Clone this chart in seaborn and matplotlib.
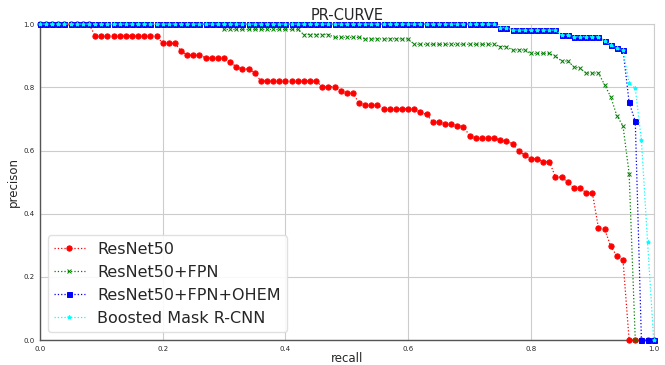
import numpy as np
import pandas as pd
import matplotlib
matplotlib.use("Agg")
import matplotlib.pyplot as plt
import seaborn as sns

# recall grid (0.00 .. 1.00, step 0.01)
recall = [0.00, 0.01, 0.02, 0.03, 0.04, 0.05, 0.06, 0.07, 0.08, 0.09,
          0.10, 0.11, 0.12, 0.13, 0.14, 0.15, 0.16, 0.17, 0.18, 0.19,
          0.20, 0.21, 0.22, 0.23, 0.24, 0.25, 0.26, 0.27, 0.28, 0.29,
          0.30, 0.31, 0.32, 0.33, 0.34, 0.35, 0.36, 0.37, 0.38, 0.39,
          0.40, 0.41, 0.42, 0.43, 0.44, 0.45, 0.46, 0.47, 0.48, 0.49,
          0.50, 0.51, 0.52, 0.53, 0.54, 0.55, 0.56, 0.57, 0.58, 0.59,
          0.60, 0.61, 0.62, 0.63, 0.64, 0.65, 0.66, 0.67, 0.68, 0.69,
          0.70, 0.71, 0.72, 0.73, 0.74, 0.75, 0.76, 0.77, 0.78, 0.79,
          0.80, 0.81, 0.82, 0.83, 0.84, 0.85, 0.86, 0.87, 0.88, 0.89,
          0.90, 0.91, 0.92, 0.93, 0.94, 0.95, 0.96, 0.97, 0.98, 0.99,
          1.00]

prec_resnet50 = [1.0, 1.0, 1.0, 1.0, 1.0, 1.0, 1.0, 1.0, 1.0, 0.963,
                 0.963, 0.963, 0.963, 0.963, 0.963, 0.963, 0.963, 0.963, 0.963, 0.963,
                 0.939, 0.939, 0.939, 0.915, 0.902, 0.902, 0.902, 0.893, 0.893, 0.893,
                 0.893, 0.880, 0.865, 0.858, 0.858, 0.846, 0.820, 0.820, 0.820, 0.820,
                 0.820, 0.820, 0.820, 0.820, 0.820, 0.820, 0.802, 0.802, 0.802, 0.788,
                 0.782, 0.782, 0.750, 0.744, 0.744, 0.744, 0.732, 0.732, 0.732, 0.732,
                 0.732, 0.732, 0.721, 0.714, 0.691, 0.691, 0.685, 0.685, 0.679, 0.676,
                 0.647, 0.639, 0.639, 0.639, 0.639, 0.633, 0.630, 0.621, 0.599, 0.585,
                 0.574, 0.574, 0.565, 0.565, 0.516, 0.516, 0.500, 0.481, 0.481, 0.467,
                 0.467, 0.355, 0.352, 0.297, 0.266, 0.253, 0.0, 0.0, 0.0, 0.0,
                 0.0]

prec_fpn = [1.0, 1.0, 1.0, 1.0, 1.0, 1.0, 1.0, 1.0, 1.0, 1.0,
            1.0, 1.0, 1.0, 1.0, 1.0, 1.0, 1.0, 1.0, 1.0, 1.0,
            1.0, 1.0, 1.0, 1.0, 1.0, 1.0, 1.0, 1.0, 1.0, 1.0,
            0.983, 0.983, 0.983, 0.983, 0.983, 0.983, 0.983, 0.983, 0.983, 0.983,
            0.983, 0.983, 0.983, 0.967, 0.967, 0.967, 0.967, 0.967, 0.958, 0.958,
            0.958, 0.958, 0.958, 0.953, 0.953, 0.953, 0.953, 0.953, 0.953, 0.953,
            0.953, 0.936, 0.936, 0.936, 0.936, 0.936, 0.936, 0.936, 0.936, 0.936,
            0.936, 0.936, 0.936, 0.936, 0.936, 0.929, 0.929, 0.918, 0.918, 0.918,
            0.907, 0.907, 0.907, 0.907, 0.899, 0.883, 0.883, 0.865, 0.860, 0.845,
            0.845, 0.845, 0.808, 0.770, 0.710, 0.678, 0.527, 0.0, 0.0, 0.0,
            0.0]

prec_ohem = [1.0, 1.0, 1.0, 1.0, 1.0, 1.0, 1.0, 1.0, 1.0, 1.0,
             1.0, 1.0, 1.0, 1.0, 1.0, 1.0, 1.0, 1.0, 1.0, 1.0,
             1.0, 1.0, 1.0, 1.0, 1.0, 1.0, 1.0, 1.0, 1.0, 1.0,
             1.0, 1.0, 1.0, 1.0, 1.0, 1.0, 1.0, 1.0, 1.0, 1.0,
             1.0, 1.0, 1.0, 1.0, 1.0, 1.0, 1.0, 1.0, 1.0, 1.0,
             1.0, 1.0, 1.0, 1.0, 1.0, 1.0, 1.0, 1.0, 1.0, 1.0,
             1.0, 1.0, 1.0, 1.0, 1.0, 1.0, 1.0, 1.0, 1.0, 1.0,
             1.0, 1.0, 1.0, 1.0, 1.0, 0.989, 0.989, 0.981, 0.981, 0.981,
             0.981, 0.981, 0.981, 0.981, 0.981, 0.965, 0.965, 0.960, 0.960, 0.960,
             0.960, 0.960, 0.947, 0.934, 0.923, 0.918, 0.752, 0.692, 0.0, 0.0,
             0.0]

prec_boosted = [1.0, 1.0, 1.0, 1.0, 1.0, 1.0, 1.0, 1.0, 1.0, 1.0,
                1.0, 1.0, 1.0, 1.0, 1.0, 1.0, 1.0, 1.0, 1.0, 1.0,
                1.0, 1.0, 1.0, 1.0, 1.0, 1.0, 1.0, 1.0, 1.0, 1.0,
                1.0, 1.0, 1.0, 1.0, 1.0, 1.0, 1.0, 1.0, 1.0, 1.0,
                1.0, 1.0, 1.0, 1.0, 1.0, 1.0, 1.0, 1.0, 1.0, 1.0,
                1.0, 1.0, 1.0, 1.0, 1.0, 1.0, 1.0, 1.0, 1.0, 1.0,
                1.0, 1.0, 1.0, 1.0, 1.0, 1.0, 1.0, 1.0, 1.0, 1.0,
                1.0, 1.0, 1.0, 1.0, 1.0, 0.989, 0.989, 0.981, 0.981, 0.981,
                0.981, 0.981, 0.981, 0.981, 0.981, 0.965, 0.965, 0.960, 0.960, 0.960,
                0.960, 0.960, 0.947, 0.934, 0.923, 0.918, 0.813, 0.797, 0.632, 0.311,
                0.0]

models = ["ResNet50", "ResNet50+FPN", "ResNet50+FPN+OHEM", "Boosted Mask R-CNN"]
series = [prec_resnet50, prec_fpn, prec_ohem, prec_boosted]
colors = ["red", "green", "blue", "cyan"]
markers = ["o", "x", "s", "*"]
msizes = [3.8, 3.0, 3.6, 2.8]

sns.set_style("whitegrid")
plt.rcParams['font.family'] = ['DejaVu Sans']

fig = plt.figure(figsize=(6.65, 3.65), dpi=100)
ax = fig.add_axes([0.060, 0.068, 0.923, 0.866])

for name, prec, c, m, ms in zip(models, series, colors, markers, msizes):
    df = pd.DataFrame({"recall": recall, "precision": prec})
    sns.lineplot(data=df, x="recall", y="precision", ax=ax, sort=False,
                 color=c, marker=m, markersize=ms, linestyle=":", linewidth=0.9,
                 markeredgewidth=0.7, markeredgecolor=c, label=name,
                 clip_on=False, zorder=3)

ax.set_xlim(0, 1.0)
ax.set_ylim(0, 1.0)
ax.set_xticks([0.0, 0.2, 0.4, 0.6, 0.8, 1.0])
ax.set_yticks([0.0, 0.2, 0.4, 0.6, 0.8, 1.0])
ax.tick_params(axis="both", labelsize=5, length=2, pad=2)
ax.grid(True, color="#cccccc", linewidth=0.8)
for side in ["left", "bottom"]:
    ax.spines[side].set_color("#555555")
    ax.spines[side].set_linewidth(1.0)
for side in ["top", "right"]:
    ax.spines[side].set_color("#cccccc")

ax.set_title("PR-CURVE", fontsize=10.5, pad=3)
ax.set_xlabel("recall", fontsize=8.5, labelpad=0)
ax.set_ylabel("precison", fontsize=8.5, labelpad=2)

ax.legend(loc="lower left", fontsize=11.5, frameon=True, fancybox=True,
          edgecolor="#dddddd", framealpha=0.9, handlelength=1.9,
          labelspacing=0.5, borderpad=0.4, borderaxespad=0.5)

fig.savefig("out.png", dpi=100)
